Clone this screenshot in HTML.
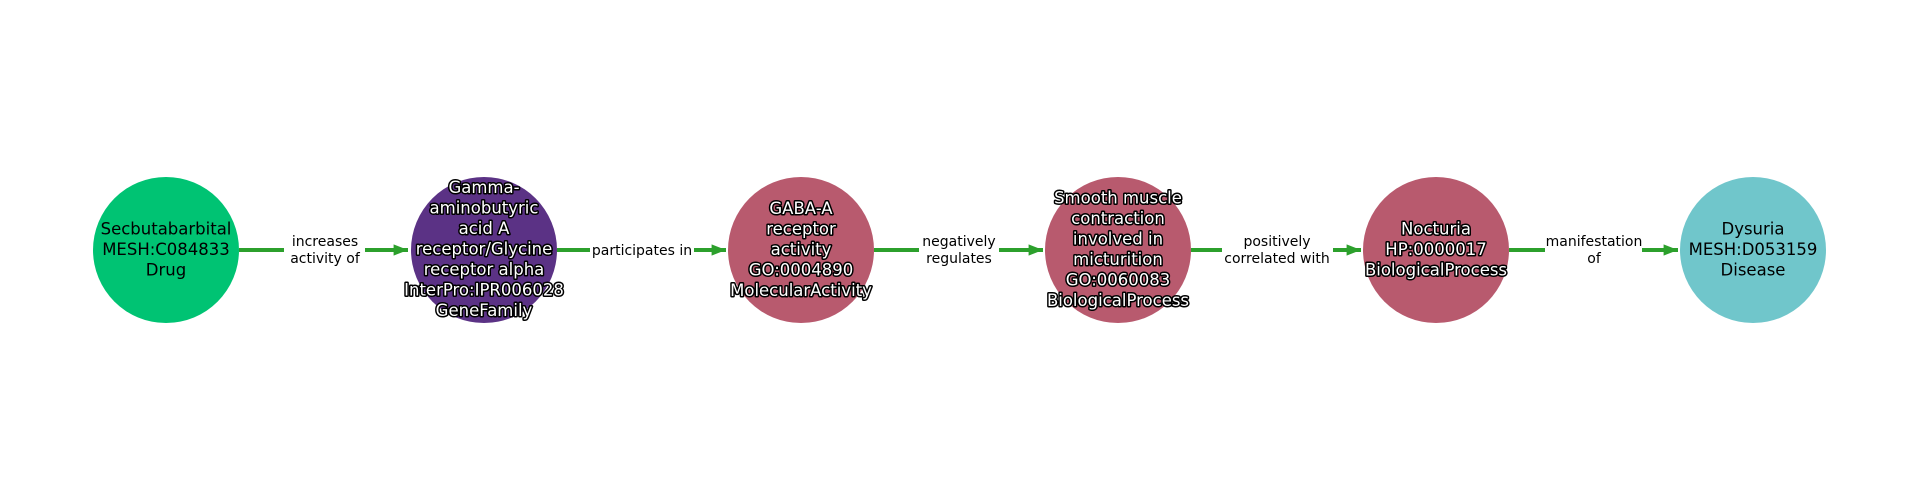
<!DOCTYPE html>
<html><head><meta charset="utf-8"><style>
html,body{margin:0;padding:0;background:#fff;}
svg{display:block;}
.n{font-family:"DejaVu Sans","Liberation Sans",sans-serif;font-size:16.5px;text-anchor:middle;}
.w{fill:#fff;stroke:#000;stroke-width:3px;paint-order:stroke;stroke-linejoin:round;}
.b{fill:#000;}
.e{font-family:"DejaVu Sans","Liberation Sans",sans-serif;font-size:14px;text-anchor:middle;fill:#000;}
</style></head><body>
<svg width="1920" height="500" viewBox="0 0 1920 500" xmlns="http://www.w3.org/2000/svg">
<defs><marker id="a" markerWidth="4" markerHeight="4" refX="3.6" refY="2" orient="auto" markerUnits="strokeWidth"><path d="M0,0.6 L3.6,2 L0,3.4 Z" fill="#2ca02c"/></marker></defs>
<g stroke="#2ca02c" stroke-width="4" fill="none">
<line x1="239" y1="250" x2="408" y2="250" marker-end="url(#a)"/>
<line x1="557" y1="250" x2="726" y2="250" marker-end="url(#a)"/>
<line x1="874" y1="250" x2="1043" y2="250" marker-end="url(#a)"/>
<line x1="1191" y1="250" x2="1361" y2="250" marker-end="url(#a)"/>
<line x1="1509" y1="250" x2="1678" y2="250" marker-end="url(#a)"/>
</g>
<g fill="#fff">
<rect x="284" y="230" width="81" height="40"/>
<rect x="590" y="238" width="104" height="24"/>
<rect x="919" y="230" width="80" height="40"/>
<rect x="1222" y="230" width="111" height="40"/>
<rect x="1545" y="230" width="97" height="40"/>
</g>
<text class="e" x="325" y="246">increases</text><text class="e" x="325" y="263">activity of</text>
<text class="e" x="642" y="255">participates in</text>
<text class="e" x="959" y="246">negatively</text><text class="e" x="959" y="263">regulates</text>
<text class="e" x="1277" y="246">positively</text><text class="e" x="1277" y="263">correlated with</text>
<text class="e" x="1594" y="246">manifestation</text><text class="e" x="1594" y="263">of</text>
<circle cx="166" cy="250" r="73" fill="#00c373"/>
<circle cx="484" cy="250" r="73" fill="#5b3285"/>
<circle cx="801" cy="250" r="73" fill="#b85a6e"/>
<circle cx="1118" cy="250" r="73" fill="#b85a6e"/>
<circle cx="1436" cy="250" r="73" fill="#b85a6e"/>
<circle cx="1753" cy="250" r="73" fill="#70c6cb"/>
<g class="n b"><text x="166" y="234.5">Secbutabarbital</text><text x="166" y="255">MESH:C084833</text><text x="166" y="275.5">Drug</text></g>
<g class="n w">
<text x="484" y="193">Gamma-</text><text x="484" y="213.5">aminobutyric</text><text x="484" y="234">acid A</text><text x="484" y="254.5">receptor/Glycine</text><text x="484" y="275">receptor alpha</text><text x="484" y="295.5">InterPro:IPR006028</text><text x="484" y="316">GeneFamily</text>
<text x="801" y="214">GABA-A</text><text x="801" y="234.5">receptor</text><text x="801" y="255">activity</text><text x="801" y="275.5">GO:0004890</text><text x="801" y="296">MolecularActivity</text>
<text x="1118" y="203.5">Smooth muscle</text><text x="1118" y="224">contraction</text><text x="1118" y="244.5">involved in</text><text x="1118" y="265">micturition</text><text x="1118" y="285.5">GO:0060083</text><text x="1118" y="306">BiologicalProcess</text>
<text x="1436" y="234.5">Nocturia</text><text x="1436" y="255">HP:0000017</text><text x="1436" y="275.5">BiologicalProcess</text>
</g>
<g class="n b"><text x="1753" y="234.5">Dysuria</text><text x="1753" y="255">MESH:D053159</text><text x="1753" y="275.5">Disease</text></g>
</svg>
</body></html>
